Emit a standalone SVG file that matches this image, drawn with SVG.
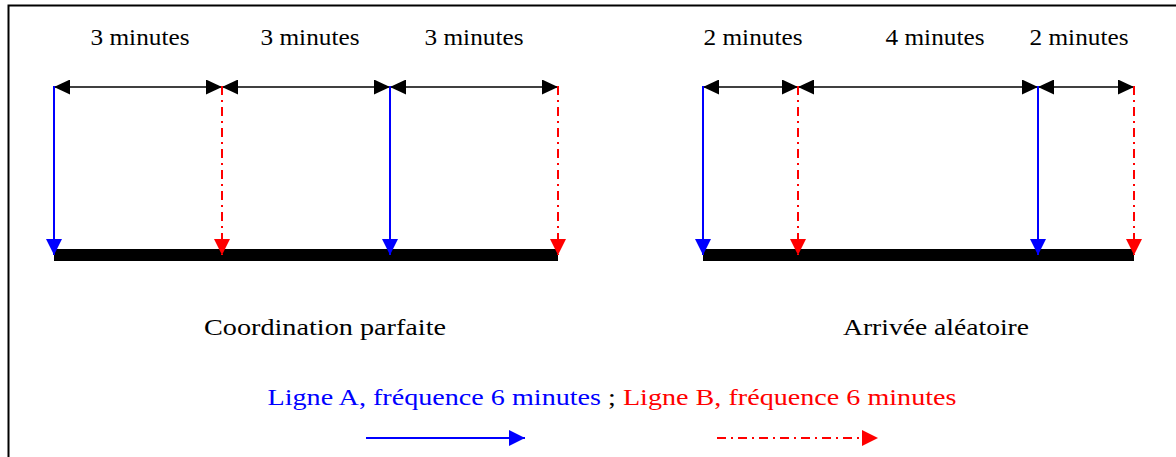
<svg xmlns="http://www.w3.org/2000/svg" width="1176" height="457" viewBox="0 0 1176 457">
<style>
.t{font-family:'Liberation Serif','DejaVu Serif',serif;font-size:23px;fill:#000;text-anchor:middle}
.dim{stroke:#000;stroke-width:1.5;fill:none;marker-start:url(#ah);marker-end:url(#ah)}
.a{stroke:#0000ff;stroke-width:2;fill:none;marker-end:url(#ba)}
.b{stroke:#ff0000;stroke-width:2;fill:none;stroke-dasharray:9 5 2 5;marker-end:url(#ra)}
.bar{fill:#000}
</style>
<defs>
<marker id="ah" viewBox="0 0 16 15" refX="16" refY="7.5" markerWidth="16" markerHeight="15" markerUnits="userSpaceOnUse" orient="auto-start-reverse"><path d="M0,0L16,7.5L0,15Z" fill="#000"/></marker>
<marker id="ba" viewBox="0 0 16 16" refX="16" refY="8" markerWidth="16" markerHeight="16" markerUnits="userSpaceOnUse" orient="auto"><path d="M0,0L16,8L0,16Z" fill="#0000ff"/></marker>
<marker id="ra" viewBox="0 0 16 16" refX="16" refY="8" markerWidth="16" markerHeight="16" markerUnits="userSpaceOnUse" orient="auto"><path d="M0,0L16,8L0,16Z" fill="#ff0000"/></marker>
</defs>
<rect x="0" y="0" width="1176" height="457" fill="#fff"/>
<rect id="frame" x="8.5" y="5.5" width="1180" height="470" fill="none" stroke="#000" stroke-width="2"/>
<g id="left-panel" font-family="Liberation Serif, serif">
<rect class="bar" x="54" y="249" width="504" height="12"/>
<text class="t" x="140" y="45" textLength="99" lengthAdjust="spacingAndGlyphs">3 minutes</text>
<text class="t" x="310" y="45" textLength="99" lengthAdjust="spacingAndGlyphs">3 minutes</text>
<text class="t" x="474" y="45" textLength="99" lengthAdjust="spacingAndGlyphs">3 minutes</text>
<text class="t" x="325" y="335" textLength="242" lengthAdjust="spacingAndGlyphs">Coordination parfaite</text>
</g>
<g id="right-panel" font-family="Liberation Serif, serif">
<rect class="bar" x="703" y="249" width="431" height="12"/>
<text class="t" x="753" y="45" textLength="99" lengthAdjust="spacingAndGlyphs">2 minutes</text>
<text class="t" x="935" y="45" textLength="99" lengthAdjust="spacingAndGlyphs">4 minutes</text>
<text class="t" x="1079" y="45" textLength="99" lengthAdjust="spacingAndGlyphs">2 minutes</text>
<text class="t" x="936" y="335" textLength="186" lengthAdjust="spacingAndGlyphs">Arrivée aléatoire</text>
</g>
<g id="connectors">
<line class="dim" x1="54" y1="87" x2="222" y2="87"/>
<line class="dim" x1="222" y1="87" x2="390" y2="87"/>
<line class="dim" x1="390" y1="87" x2="558" y2="87"/>
<line class="a" x1="54" y1="86" x2="54" y2="255"/>
<line class="b" x1="222" y1="86" x2="222" y2="255"/>
<line class="a" x1="390" y1="86" x2="390" y2="255"/>
<line class="b" x1="558" y1="86" x2="558" y2="255"/>
<line class="dim" x1="703" y1="87" x2="798" y2="87"/>
<line class="dim" x1="798" y1="87" x2="1038" y2="87"/>
<line class="dim" x1="1038" y1="87" x2="1134" y2="87"/>
<line class="a" x1="703" y1="86" x2="703" y2="255"/>
<line class="b" x1="798" y1="86" x2="798" y2="255"/>
<line class="a" x1="1038" y1="86" x2="1038" y2="255"/>
<line class="b" x1="1134" y1="86" x2="1134" y2="255"/>
</g>
<g id="legend" font-family="Liberation Serif, serif">
<text class="t" x="612" y="405" textLength="689" lengthAdjust="spacingAndGlyphs"><tspan fill="#0000ff">Ligne A, fréquence 6 minutes</tspan> ; <tspan fill="#ff0000">Ligne B, fréquence 6 minutes</tspan></text>
<line class="a" x1="366" y1="438" x2="525" y2="438"/>
<line class="b" x1="717" y1="438" x2="878" y2="438"/>
</g>
</svg>
